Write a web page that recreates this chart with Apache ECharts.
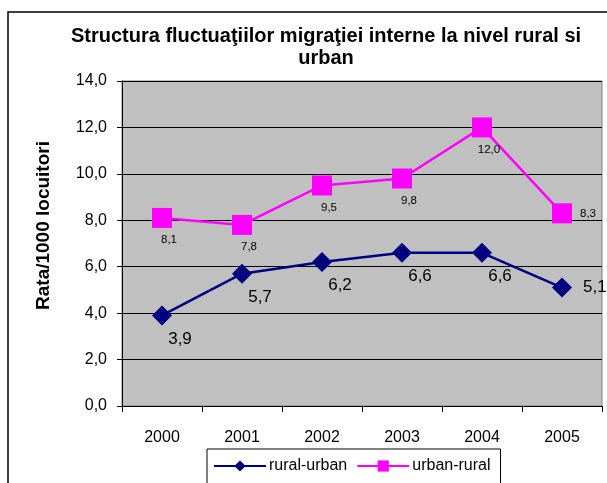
<!DOCTYPE html>
<html>
<head>
<meta charset="utf-8">
<script src="https://cdn.jsdelivr.net/npm/echarts@6/dist/echarts.min.js"></script>
<style>
  html, body { margin: 0; padding: 0; background: #fff; }
  #chart { width: 607px; height: 483px; }
</style>
</head>
<body>
<div id="chart"></div>
<script>
// ani si rate (la 1000 locuitori)
const YEARS = ["2000", "2001", "2002", "2003", "2004", "2005"];
const RURAL_URBAN = [3.9, 5.7, 6.2, 6.6, 6.6, 5.1];
const URBAN_RURAL = [8.1, 7.8, 9.5, 9.8, 12.0, 8.3];

const FONT = "Liberation Sans, Arial, sans-serif";
const fmt = (v) => Number(v).toFixed(1).replace(".", ",");

const chart = echarts.init(document.getElementById("chart"), null, { renderer: "canvas" });

// ultima valoare are eticheta la dreapta, restul dedesubt
function labelled(values, base, lastRight) {
  return values.map((v, i) => {
    if (i === values.length - 1) {
      return { value: v, label: Object.assign({}, base, lastRight) };
    }
    return v;
  });
}

const ruralLabel = {
  show: true, position: "bottom", distance: 5, offset: [18, 0],
  fontSize: 17, color: "#000", fontFamily: FONT,
  formatter: (p) => fmt(p.value),
};
const urbanLabel = {
  show: true, position: "bottom", distance: 5, offset: [7, 1],
  fontSize: 11.5, color: "#000", fontFamily: FONT,
  formatter: (p) => fmt(p.value),
};

chart.setOption({
  animation: false,
  backgroundColor: "#fff",
  textStyle: { fontFamily: FONT },
  title: {
    text: "Structura fluctuaţiilor migraţiei interne la nivel rural si\nurban",
    left: 321,
    textAlign: "center",
    top: 20,
    textStyle: { fontSize: 20, fontWeight: "bold", color: "#000", lineHeight: 22, fontFamily: FONT },
  },
  graphic: [
    {
      type: "rect",
      shape: { x: 8, y: 12, width: 640, height: 520 },
      style: { fill: null, stroke: "#000", lineWidth: 1.5 },
      silent: true,
      z: 100,
    },
  ],
  legend: {
    left: 207,
    top: 449,
    padding: [9, 10, 14, 6],
    borderColor: "#000",
    borderWidth: 1,
    itemWidth: 52,
    itemHeight: 14,
    itemGap: 9,
    textStyle: { fontSize: 16, color: "#000", fontFamily: FONT, padding: [0, 0, 0, -2] },
    data: ["rural-urban", "urban-rural"],
  },
  grid: {
    left: 122,
    right: 5,
    top: 81,
    bottom: 77,
    show: true,
    backgroundColor: "#c0c0c0",
    borderColor: "#808080",
    borderWidth: 1,
  },
  xAxis: {
    type: "category",
    data: YEARS,
    boundaryGap: true,
    axisLine: { lineStyle: { color: "#000", width: 1 } },
    axisTick: { show: true, inside: false, length: 6, lineStyle: { color: "#000" } },
    axisLabel: { margin: 24, fontSize: 16, color: "#000", fontFamily: FONT },
  },
  yAxis: {
    type: "value",
    min: 0,
    max: 14,
    interval: 2,
    name: "Rata/1000 locuitori",
    nameLocation: "middle",
    nameGap: 69,
    nameRotate: 90,
    nameTextStyle: {
      fontSize: 19, fontWeight: "bold", color: "#000", fontFamily: FONT,
      padding: [0, 0, 0, 36],
    },
    axisLine: { show: true, lineStyle: { color: "#000", width: 1 } },
    axisTick: { show: true, inside: false, length: 5, lineStyle: { color: "#000" } },
    axisLabel: { margin: 15, fontSize: 16, color: "#000", fontFamily: FONT, formatter: fmt },
    splitLine: { show: true, lineStyle: { color: "#000", width: 1 } },
  },
  series: [
    {
      name: "rural-urban",
      type: "line",
      data: labelled(RURAL_URBAN, ruralLabel, { position: "right", distance: 11, offset: [0, 0] }),
      symbol: "diamond",
      symbolSize: 20,
      lineStyle: { color: "#000080", width: 2.5 },
      itemStyle: { color: "#000080" },
      label: ruralLabel,
      z: 3,
    },
    {
      name: "urban-rural",
      type: "line",
      data: labelled(URBAN_RURAL, urbanLabel, { position: "right", distance: 8, offset: [0, 1] }),
      symbol: "rect",
      symbolSize: 20,
      lineStyle: { color: "#ff00ff", width: 2.5 },
      itemStyle: { color: "#ff00ff" },
      label: urbanLabel,
      z: 3,
    },
  ],
});
</script>
</body>
</html>
